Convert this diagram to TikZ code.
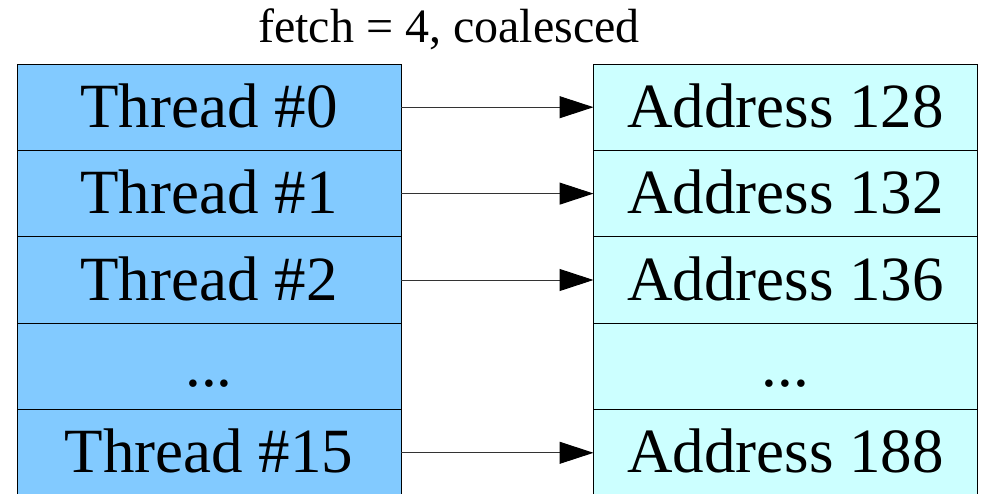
\documentclass[tikz,border=0pt]{standalone}
\usepackage{fontspec}
\setmainfont{Liberation Serif}
\usetikzlibrary{arrows.meta}
\definecolor{thr}{RGB}{130,202,255}
\definecolor{adr}{RGB}{204,255,255}
\tikzset{
  cell/.style={draw=black, line width=1pt, minimum width=384pt, minimum height=86.4pt, inner sep=0pt, outer sep=0pt, text height=42pt, text depth=2pt, font=\fontsize{63}{70}\selectfont, anchor=north west},
  thcell/.style={cell, fill=thr},
  adcell/.style={cell, fill=adr},
  link/.style={draw=black!80, line width=1pt, -{Triangle[length=34pt,width=22pt,color=black]}}
}
\begin{document}
\begin{tikzpicture}[x=1pt,y=-1pt]
\useasboundingbox (0,0) rectangle (982,493);
\clip (0,0) rectangle (982,493);
\node[font=\fontsize{48}{54}\selectfont, anchor=base] (title) at (449,42) {fetch = 4, coalesced};
\node[thcell] (t0) at (17,64) {Thread \#0};
\node[thcell] (t1) at (17,150.4) {Thread \#1};
\node[thcell] (t2) at (17,236.8) {Thread \#2};
\node[thcell] (t3) at (17,323.2) {...};
\node[thcell] (t4) at (17,409.6) {Thread \#15};
\node[adcell] (a0) at (593.5,64) {Address 128};
\node[adcell] (a1) at (593.5,150.4) {Address 132};
\node[adcell] (a2) at (593.5,236.8) {Address 136};
\node[adcell] (a3) at (593.5,323.2) {...};
\node[adcell] (a4) at (593.5,409.6) {Address 188};
\foreach \i in {0,1,2,4}{
  \draw[link] (t\i.east) -- (a\i.west);
}
\end{tikzpicture}
\end{document}
